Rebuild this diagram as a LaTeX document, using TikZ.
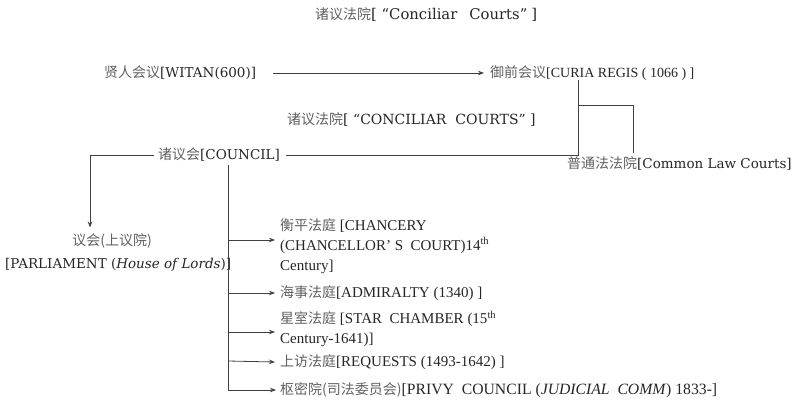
\documentclass[tikz,border=0pt]{standalone}
\usepackage{fontspec}
\setmainfont{Liberation Serif}
\newfontfamily\cjk{Noto Sans CJK SC}
\newfontfamily\cent{DejaVu Serif}
\usetikzlibrary{arrows.meta}
\newcommand\zh[1]{{\cjk\fontsize{14}{20}\selectfont\color{black!62}#1}}
\begin{document}
\begin{tikzpicture}[x=1pt,y=-1pt,
  every node/.style={inner sep=0pt, font=\fontsize{14}{20}\selectfont, text=black!85},
  cen/.style={font=\cent\fontsize{13.5}{20}\selectfont},
  tim/.style={font=\fontsize{15}{20}\selectfont},
  lbl/.style={anchor=west},
  blk/.style={anchor=north west, align=left},
  ln/.style={draw=black!75, line width=0.8pt},
  arr/.style={ln, -{Stealth[length=6pt,width=4.5pt]}}]
\useasboundingbox (0,0) rectangle (799,401);
\fill[white] (0,0) rectangle (799,401);

\node[lbl,font=\cent\fontsize{14.8}{20}\selectfont] (title) at (315,15) {\zh{诸议法院}[ “Conciliar\hspace{12pt}Courts”\hspace{4pt}]};
\node[lbl,cen] (witan) at (104,73) {\zh{贤人会议}[WITAN(600)]};
\node[lbl] (curia) at (490,73) {\zh{御前会议}[CURIA REGIS ( 1066 ) ]};
\node[lbl,font=\cent\fontsize{14}{20}\selectfont] (conc) at (287,119) {\zh{诸议法院}[ “CONCILIAR\hspace{9pt}COURTS” ]};
\node[lbl,cen] (council) at (158,155) {\zh{诸议会}[COUNCIL]};
\node[lbl,cen] (common) at (567,163) {\zh{普通法法院}[Common Law Courts]};
\node (parl1) at (112,241) {\zh{议会(上议院)}};
\node[lbl,cen] (parl2) at (5,265) {[PARLIAMENT (\textit{House of Lords})]};
\node[blk,tim] (chan) at (280,218) {\zh{衡平法庭} [CHANCERY\\(CHANCELLOR'\ S\ \ COURT)14\textsuperscript{th}\\Century]};
\node[lbl,tim] (adm) at (280,293) {\zh{海事法庭}[ADMIRALTY (1340) ]};
\node[blk,tim] (star) at (280,311) {\zh{星室法庭} [STAR\ \ CHAMBER (15\textsuperscript{th}\\Century-1641)]};
\node[lbl,tim] (req) at (280,362) {\zh{上访法庭}[REQUESTS (1493-1642) ]};
\node[lbl,font=\fontsize{15.7}{20}\selectfont] (privy) at (280,390) {\zh{枢密院(司法委员会)}[PRIVY\ \ COUNCIL (\textit{JUDICIAL\ \ COMM}) 1833-]};

% witan -> curia
\draw[arr] ([xshift=17pt]witan.east) -- ([xshift=-6pt]curia.west);

% curia down to council line, and branch to common law courts
\coordinate (k1) at (578,80);
\coordinate (k2) at (578,155);
\coordinate (k3) at (578,105);
\coordinate (k4) at (633,105);
\coordinate (k5) at (633,153);
\draw[ln] (k1) -- (k2) -- ([xshift=6pt]council.east);
\draw[ln] (k3) -- (k4) -- (k5);

% council -> parliament
\coordinate (lx) at (90,0);
\draw[arr] ([xshift=-4pt]council.west) -| ([yshift=6pt]parl1.north -| lx);

% trunk to courts
\coordinate (t0) at (228,165);
\coordinate (b1) at (228,240);
\coordinate (b2) at (228,293);
\coordinate (b3) at (228,332);
\coordinate (b4) at (228,361);
\draw[arr] (t0) |- ([xshift=-4pt]privy.west);
\draw[arr] (b1) -- ([xshift=-5pt]b1 -| chan.west);
\draw[arr] (b2) -- ([xshift=-5pt]adm.west);
\draw[arr] (b3) -- ([xshift=-5pt]b3 -| star.west);
\draw[arr] (b4) -- ([xshift=-5pt]req.west);
\end{tikzpicture}
\end{document}
